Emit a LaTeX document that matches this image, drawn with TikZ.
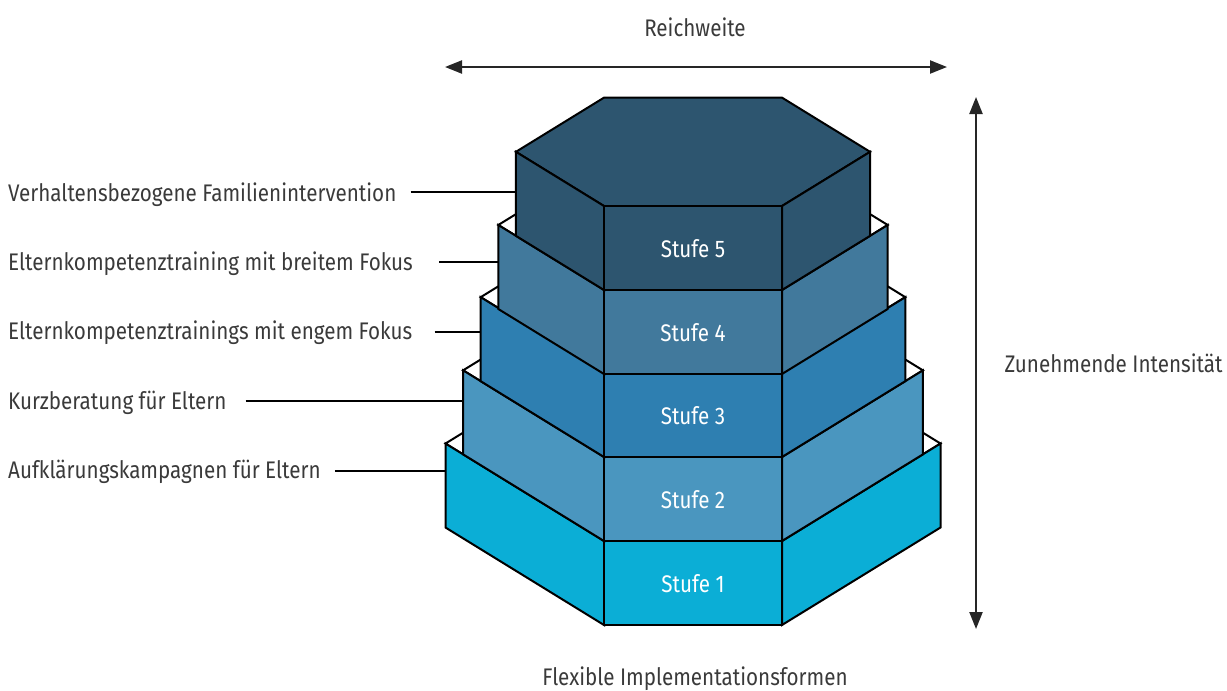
\documentclass[tikz,border=0pt]{standalone}
\usepackage{fontspec}
\setmainfont{Fira Sans}[FakeStretch=0.86]
\usepackage{tikz}
\usetikzlibrary{arrows.meta}
\definecolor{stufeA}{RGB}{11,174,214}
\definecolor{stufeB}{RGB}{74,150,191}
\definecolor{stufeC}{RGB}{46,127,177}
\definecolor{stufeD}{RGB}{65,121,156}
\definecolor{stufeE}{RGB}{45,85,111}
\definecolor{textgrey}{RGB}{58,58,58}
\tikzset{>={Triangle[length=17pt,width=13pt]}}
\tikzset{%
    face/.style={draw=black,line width=2pt,line join=miter},
    stufe/.style={text=white,font=\fontsize{24}{26}\selectfont,inner sep=0pt},
    lbl/.style={text=textgrey,font=\fontsize{24}{26}\selectfont,inner sep=0pt,anchor=base west},
    axis/.style={<->,line width=2.2pt,draw=black!85}
}

\begin{document}
\begin{tikzpicture}[x=1pt,y=-1pt]
    \useasboundingbox (0,0) rectangle (1227,691);
    % the five stacked layers, bottom first
    \foreach \k/\col/\top/\ytop in {1/stufeA/white/541, 2/stufeB/white/457, 3/stufeC/white/373, 4/stufeD/white/290, 5/stufeE/stufeE/206} {
        \pgfmathsetmacro\dx{158.5-17.6*(\k-1)}
        \pgfmathsetmacro\dy{0.615*\dx}
        \pgfmathsetmacro\ybot{\ytop+84}
        \draw[face,fill=\top] (604,\ytop) -- ({604-\dx},{\ytop-\dy}) -- (604,{\ytop-2*\dy})
            -- (782,{\ytop-2*\dy}) -- ({782+\dx},{\ytop-\dy}) -- (782,\ytop) -- cycle;
        \draw[face,fill=\col] (604,\ytop) -- ({604-\dx},{\ytop-\dy}) -- ({604-\dx},{\ybot-\dy}) -- (604,\ybot) -- cycle;
        \draw[face,fill=\col] (782,\ytop) -- ({782+\dx},{\ytop-\dy}) -- ({782+\dx},{\ybot-\dy}) -- (782,\ybot) -- cycle;
        \draw[face,fill=\col] (604,\ytop) rectangle (782,\ybot);
        \node[stufe] (s\k) at (693,{\ytop+43}) {Stufe \k};
    }

    % labels on the left
    \node[lbl] (l5) at (8,201) {Verhaltensbezogene Familienintervention};
    \node[lbl] (l4) at (8,270) {Elternkompetenztraining mit breitem Fokus};
    \node[lbl] (l3) at (8,339) {Elternkompetenztrainings mit engem Fokus};
    \node[lbl] (l2) at (8,409) {Kurzberatung für Eltern};
    \node[lbl] (l1) at (8,478) {Aufklärungskampagnen für Eltern};
    \coordinate (e5) at (516,192);
    \coordinate (e4) at (498,262);
    \coordinate (e3) at (480,332);
    \coordinate (e2) at (463,401);
    \coordinate (e1) at (445,471);
    \draw[line width=2pt] (l5.east |- e5) ++(14,0) -- (e5);
    \draw[line width=2pt] (l4.east |- e4) ++(26,0) -- (e4);
    \draw[line width=2pt] (l3.east |- e3) ++(22,0) -- (e3);
    \draw[line width=2pt] (l2.east |- e2) ++(19,0) -- (e2);
    \draw[line width=2pt] (l1.east |- e1) ++(14,0) -- (e1);

    % reach and intensity
    \node[text=textgrey,font=\fontsize{24}{26}\selectfont] (reach) at (695,27) {Reichweite};
    \coordinate (rl) at (445,67);
    \coordinate (rr) at (947,67);
    \draw[axis] (rl) -- (rr);
    \coordinate (it) at (976,97);
    \coordinate (ib) at (976,629);
    \draw[axis] (it) -- (ib);
    \node[text=textgrey,font=\fontsize{24}{26}\selectfont,anchor=west] (intens) at (1001,363) {Zunehmende Intensität};
    \node[text=textgrey,font=\fontsize{24}{26}\selectfont] (forms) at (695,679) {Flexible Implementationsformen};
\end{tikzpicture}
\end{document}
